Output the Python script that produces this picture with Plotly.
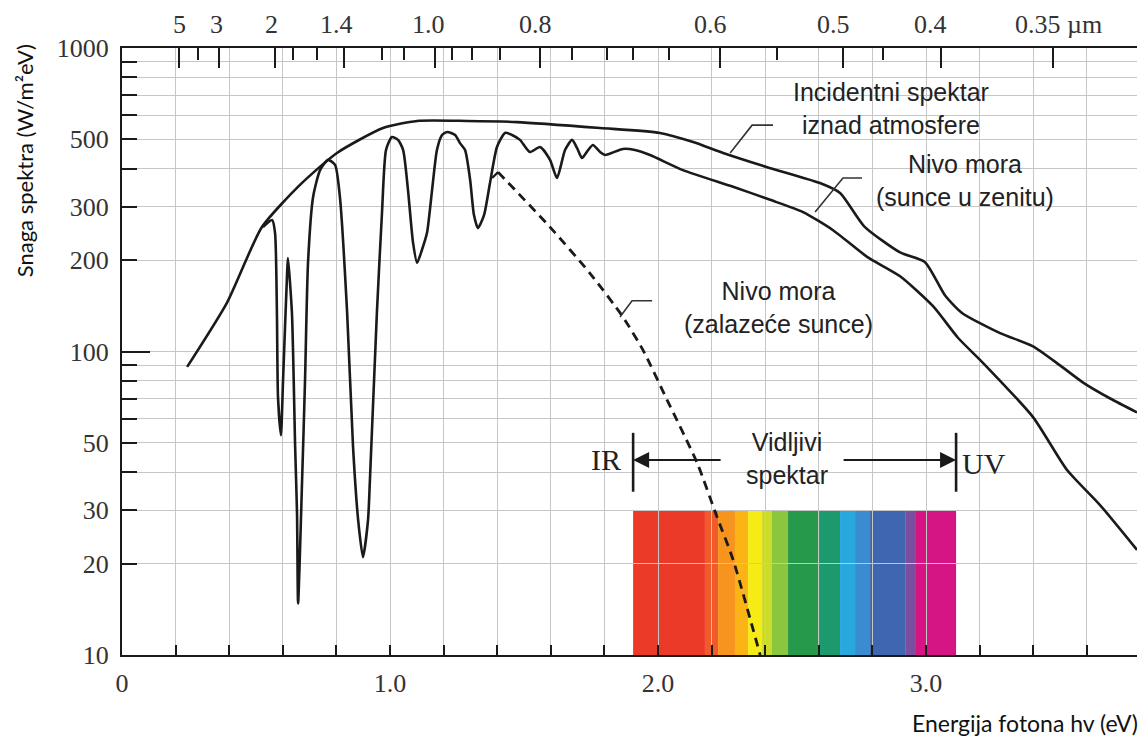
import math
import plotly.graph_objects as go

# ---------------- data ----------------
# Extraterrestrial spectrum ("Incidentni spektar iznad atmosfere")
E_am0 = [0.243, 0.392, 0.522, 0.664, 0.802, 0.974, 1.101, 1.287, 1.474, 1.784,
         2.007, 2.131, 2.243, 2.407, 2.604, 2.679, 2.770, 2.903, 2.996, 3.071,
         3.134, 3.276, 3.399, 3.500, 3.586, 3.687, 3.787]
P_am0 = [89, 145, 257, 354, 451, 545, 575, 575, 570, 545,
         525, 490, 451, 405, 359, 333, 258, 212, 197, 153,
         134, 115, 104, 90, 79, 70, 63]

# Sea level, sun at zenith ("Nivo mora (sunce u zenitu)")
E_am1 = [0.526, 0.560, 0.571, 0.578, 0.582, 0.593, 0.601, 0.616, 0.619, 0.634,
         0.646, 0.653, 0.657, 0.672, 0.683, 0.694, 0.713, 0.739, 0.769, 0.795,
         0.813, 0.840, 0.862, 0.881, 0.899, 0.918, 0.925, 0.951, 0.970, 0.985,
         1.007, 1.030, 1.049, 1.067, 1.086, 1.101, 1.119, 1.138, 1.157, 1.175,
         1.194, 1.213, 1.243, 1.261, 1.280, 1.299, 1.313, 1.328, 1.351, 1.373,
         1.399, 1.429, 1.455, 1.485, 1.522, 1.560, 1.597, 1.623, 1.653, 1.679,
         1.698, 1.716, 1.739, 1.757, 1.784, 1.802, 1.869, 1.914, 1.970, 2.093,
         2.280, 2.418, 2.541, 2.653, 2.780, 2.903, 3.026, 3.119, 3.213, 3.399,
         3.526, 3.649, 3.787]
P_am1 = [257, 271, 246, 134, 71, 53, 81, 181, 203, 134,
         48.5, 29.4, 14.8, 37.7, 81, 196, 323, 396, 428, 412,
         323, 134, 48.5, 27.9, 21.0, 27.9, 37.7, 134, 286, 461,
         509, 498, 461, 341, 228, 196, 216, 246, 341, 461,
         517, 529, 517, 486, 461, 367, 282, 255, 282, 359,
         472, 525, 517, 498, 454, 472, 428, 373, 461, 498,
         468, 434, 461, 479, 454, 444, 465, 461, 444, 396,
         349, 316, 288, 251, 205, 177, 141, 111, 91.6, 60.8,
         40.7, 31.2, 22.2]

# Sea level, setting sun ("Nivo mora (zalazeće sunce)")
E_set = [1.403, 1.597, 1.746, 1.869, 1.944, 2.034, 2.146, 2.220, 2.280, 2.381]
P_set = [390, 257, 181, 130, 101, 69.2, 42.9, 28.5, 20.6, 10]
E_link = [1.381, 1.403]
P_link = [373, 390]

# Axis ticks
x_tickvals = [0, 0.2, 0.4, 0.6, 0.8, 1.0, 1.2, 1.4, 1.6, 1.8, 2.0, 2.2, 2.4,
              2.6, 2.8, 3.0, 3.2, 3.4, 3.6]
x_ticktext = ["0", "", "", "", "", "1.0", "", "", "", "", "2.0", "", "", "",
              "", "3.0", "", "", ""]
y_tickvals = [10, 20, 30, 40, 50, 60, 70, 80, 90, 100,
              200, 300, 400, 500, 600, 700, 800, 900, 1000]
y_ticktext = ["10", "20", "30", "", "50", "", "", "", "", "100",
              "200", "300", "", "500", "", "", "", "", "1000"]

# Top (wavelength) axis
top_major_pos = [0.213, 0.362, 0.571, 0.828, 1.168, 1.560, 2.231, 2.690, 3.056, 3.474]
top_minor_pos = [0.284, 0.638, 0.728, 0.970, 1.052, 1.231, 1.306, 1.410, 1.679,
                 1.810, 1.907, 2.041, 2.444, 2.840]
top_labels = ["5", "3", "2", "1.4", "1.0", "0.8", "0.6", "0.5", "0.4", "0.35 µm"]
top_label_pos = [0.216, 0.354, 0.556, 0.802, 1.142, 1.541, 2.194, 2.653, 3.015, 3.325]

# Visible spectrum band (energy edges and colours)
band_edges = [1.907, 2.175, 2.224, 2.287, 2.336, 2.388, 2.425, 2.485, 2.604,
              2.679, 2.735, 2.791, 2.922, 2.959, 3.112]
band_colors = ["#ec3a28", "#f15a29", "#f7941d", "#fcb316", "#f6eb14", "#cbdb2a",
               "#8cc63f", "#26994a", "#1c9a6e", "#29a8df", "#3a8bd0", "#3f67b1",
               "#7b4fa0", "#d41583"]
band_top = 30

# leader lines
lead1_x, lead1_y = [2.269, 2.351, 2.429], [451, 557, 557]
lead2_x, lead2_y = [2.586, 2.690, 2.761], [288, 373, 373]
lead3_x, lead3_y = [1.858, 1.903, 1.978], [130, 147, 147]

X_MAX = 3.787
SERIF = "Liberation Serif"
SANS = "Liberation Sans"
INK = "#1a1a1a"
GRID = "#c6c6c6"

fig = go.Figure()

line_style = dict(color=INK, width=2.6, shape="spline", smoothing=0.6)
fig.add_trace(go.Scatter(x=E_am0, y=P_am0, mode="lines", line=line_style,
                         showlegend=False, hoverinfo="skip"))
fig.add_trace(go.Scatter(x=E_am1, y=P_am1, mode="lines", line=line_style,
                         showlegend=False, hoverinfo="skip"))
fig.add_trace(go.Scatter(x=E_set, y=P_set, mode="lines",
                         line=dict(color=INK, width=2.8, dash="9px,6px",
                                   shape="spline", smoothing=0.6),
                         showlegend=False, hoverinfo="skip"))
fig.add_trace(go.Scatter(x=E_link, y=P_link, mode="lines",
                         line=dict(color=INK, width=2.2),
                         showlegend=False, hoverinfo="skip"))
for lx, ly in [(lead1_x, lead1_y), (lead2_x, lead2_y), (lead3_x, lead3_y)]:
    fig.add_trace(go.Scatter(x=lx, y=ly, mode="lines",
                             line=dict(color="#333333", width=1.6),
                             showlegend=False, hoverinfo="skip"))

# dummy traces registering the overlay axes
fig.add_trace(go.Scatter(x=[None], y=[None], xaxis="x2", yaxis="y",
                         showlegend=False, hoverinfo="skip"))
fig.add_trace(go.Scatter(x=[None], y=[None], xaxis="x3", yaxis="y",
                         showlegend=False, hoverinfo="skip"))
fig.add_trace(go.Scatter(x=[None], y=[None], xaxis="x", yaxis="y2",
                         showlegend=False, hoverinfo="skip"))

band_top_paper = (math.log10(band_top) - 1) / 2.0
shapes = []
for i, c in enumerate(band_colors):
    shapes.append(dict(type="rect", xref="x", yref="paper",
                       x0=band_edges[i], x1=band_edges[i + 1],
                       y0=0, y1=band_top_paper, fillcolor=c,
                       line=dict(width=0), layer="below"))

# white masks behind the label texts (hide grid lines)
masks = [(2.392, 3.313, 0.848, 0.967), (2.743, 3.601, 0.703, 0.840),
         (2.071, 2.840, 0.507, 0.639), (1.746, 3.313, 0.240, 0.377)]
for x0, x1, y0, y1 in masks:
    shapes.append(dict(type="rect", xref="x", yref="paper", x0=x0, x1=x1,
                       y0=y0, y1=y1, fillcolor="white", line=dict(width=0),
                       layer="between"))

# IR / UV bars
for xb in [1.907, 3.112]:
    shapes.append(dict(type="line", xref="x", yref="paper", x0=xb, x1=xb,
                       y0=0.269, y1=0.366, line=dict(color=INK, width=2.6)))

annotations = []
for lab, pos in zip(top_labels, top_label_pos):
    annotations.append(dict(x=pos, xref="x", y=1, yref="paper", yshift=24,
                            text=lab, showarrow=False, yanchor="middle",
                            xanchor="left" if "µm" in lab else "center",
                            font=dict(family=SERIF, size=26, color="#333333")))

txt_font = dict(family=SANS, size=25, color="#222222")
mid = dict(showarrow=False, xanchor="center", yanchor="middle")
annotations += [
    dict(x=2.869, y=0.901, xref="x", yref="paper",
         text="Incidentni spektar<br>iznad atmosfere", font=txt_font, **mid),
    dict(x=3.146, y=0.781, xref="x", yref="paper",
         text="Nivo mora<br>(sunce u zenitu)", font=txt_font, **mid),
    dict(x=2.451, y=0.5717, xref="x", yref="paper",
         text="Nivo mora<br>(zalazeće sunce)", font=txt_font, **mid),
    dict(x=2.481, y=0.3229, xref="x", yref="paper",
         text="Vidljivi<br>spektar", font=txt_font, **mid),
    dict(x=1.806, y=0.3213, xref="x", yref="paper",
         text="IR", font=dict(family=SERIF, size=30, color="#222222"), **mid),
    dict(x=3.216, y=0.3163, xref="x", yref="paper",
         text="UV", font=dict(family=SERIF, size=30, color="#222222"), **mid),
    # arrows
    dict(x=1.907, y=0.3213, xref="x", yref="paper", ax=89, ay=0, text="",
         showarrow=True, arrowhead=2, arrowsize=1.6, arrowwidth=2,
         arrowcolor=INK, standoff=0),
    dict(x=3.112, y=0.3213, xref="x", yref="paper", ax=-114, ay=0, text="",
         showarrow=True, arrowhead=2, arrowsize=1.6, arrowwidth=2,
         arrowcolor=INK, standoff=0),
    # axis titles
    dict(x=-0.0966, y=0.815, xref="paper", yref="paper",
         text="Snaga spektra (W/m²eV)", textangle=-90,
         font=dict(family="Lato", size=22, color="#111111"), **mid),
    dict(x=1.003, y=-0.112, xref="paper", yref="paper", showarrow=False,
         xanchor="right", yanchor="middle", text="Energija fotona hv (eV)",
         font=dict(family="Lato", size=23, color="#111111")),
]

axis_common = dict(ticks="inside", tickwidth=2, tickcolor=INK, zeroline=False)

# the page body has an 8px margin: size and margins compensate for it
fig.update_layout(
    width=1132, height=728,
    margin=dict(l=114, r=3, t=40, b=81),
    paper_bgcolor="white", plot_bgcolor="white",
    showlegend=False,
    shapes=shapes,
    annotations=annotations,
    xaxis=dict(range=[0, X_MAX], tickvals=x_tickvals, ticktext=x_ticktext,
               ticklen=10, showgrid=True, gridcolor=GRID, gridwidth=1,
               showline=True, linewidth=2, linecolor=INK,
               tickfont=dict(family=SERIF, size=26, color="#333333"),
               ticklabelstandoff=4, **axis_common),
    xaxis2=dict(range=[0, X_MAX], overlaying="x", side="top", anchor="y",
                tickvals=top_major_pos, ticklen=20, showticklabels=False,
                showgrid=False, showline=True, linewidth=2, linecolor=INK,
                **axis_common),
    xaxis3=dict(range=[0, X_MAX], overlaying="x", side="top", anchor="y",
                tickvals=top_minor_pos, ticklen=12, showticklabels=False,
                showgrid=False, showline=False, **axis_common),
    yaxis=dict(type="log", range=[1, 3], tickvals=y_tickvals,
               ticktext=y_ticktext, ticklen=15, showgrid=True,
               gridcolor=GRID, gridwidth=1, showline=True, linewidth=2,
               linecolor=INK,
               tickfont=dict(family=SERIF, size=26, color="#333333"),
               ticklabelstandoff=6, **axis_common),
    yaxis2=dict(type="log", range=[1, 3], overlaying="y", side="left",
                anchor="x", tickvals=[100], ticklen=28, showticklabels=False,
                showgrid=False, showline=False, **axis_common),
)

fig.write_html("out.html")
